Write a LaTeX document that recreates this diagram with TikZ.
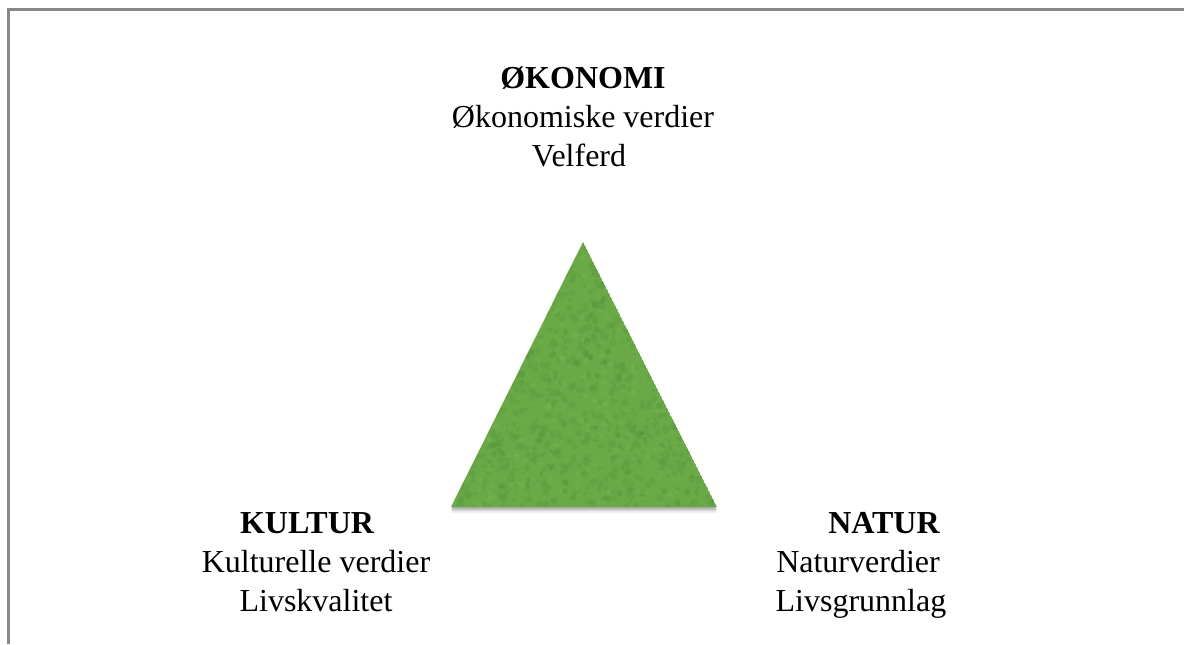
\documentclass[tikz,border=0pt]{standalone}
\usepackage{fontspec}
\setmainfont{Liberation Serif}
\definecolor{rammegraa}{HTML}{88888C}
\definecolor{gress}{HTML}{69A946}
\definecolor{gressmork}{HTML}{528F34}
\definecolor{gresslys}{HTML}{78B855}
\tikzset{
	tittel/.style={anchor=base,inner sep=0pt,font=\fontsize{16}{19}\selectfont\bfseries},
	linje/.style={anchor=base,inner sep=0pt,font=\fontsize{16}{19}\selectfont},
}
\begin{document}
\begin{tikzpicture}[x=0.5pt,y=-0.5pt]
		\useasboundingbox (0,0) rectangle (1184,644);
		\draw [rammegraa,line width=1.5pt] (8,644) -- (8,9) -- (1184,9);
		\coordinate (A) at (583,242);
		\coordinate (B) at (451,507);
		\coordinate (C) at (717,507);
		% skygge
		\foreach \s/\o in {3/0.06,2.2/0.08,1.5/0.1,0.8/0.12}
			\fill [black,opacity=\o] ([yshift=-\s pt]A) -- ([yshift=-\s pt]B) -- ([yshift=-\s pt]C) -- cycle;
		\begin{scope}
			\clip (A) -- (B) -- (C) -- cycle;
			\fill [gress] (A) -- (B) -- (C) -- cycle;
			\pgfmathsetseed{42}
			\foreach \i in {1,...,1400} {
				\pgfmathsetmacro{\px}{451+266*rnd}
				\pgfmathsetmacro{\py}{242+265*rnd}
				\pgfmathsetmacro{\r}{0.6+1.3*rnd}
				\fill [gressmork,opacity=0.22] (\px,\py) circle [radius=\r pt];
			}
			\foreach \i in {1,...,700} {
				\pgfmathsetmacro{\px}{451+266*rnd}
				\pgfmathsetmacro{\py}{242+265*rnd}
				\pgfmathsetmacro{\r}{0.5+1*rnd}
				\fill [gresslys,opacity=0.3] (\px,\py) circle [radius=\r pt];
			}
		\end{scope}
		% tekst
		\node [tittel] (okonomi) at (583,88) {ØKONOMI};
		\node [linje] (okverdi) at (583,127) {Økonomiske verdier};
		\node [linje] (velferd) at (579,166) {Velferd};
		\node [tittel] (kultur) at (307,533) {KULTUR};
		\node [linje] (kulverdi) at (316,572) {Kulturelle verdier};
		\node [linje] (livskval) at (316,611) {Livskvalitet};
		\node [tittel] (natur) at (884,533) {NATUR};
		\node [linje] (natverdi) at (858,572) {Naturverdier};
		\node [linje] (livsgrunn) at (861,611) {Livsgrunnlag};
	\end{tikzpicture}
\end{document}
